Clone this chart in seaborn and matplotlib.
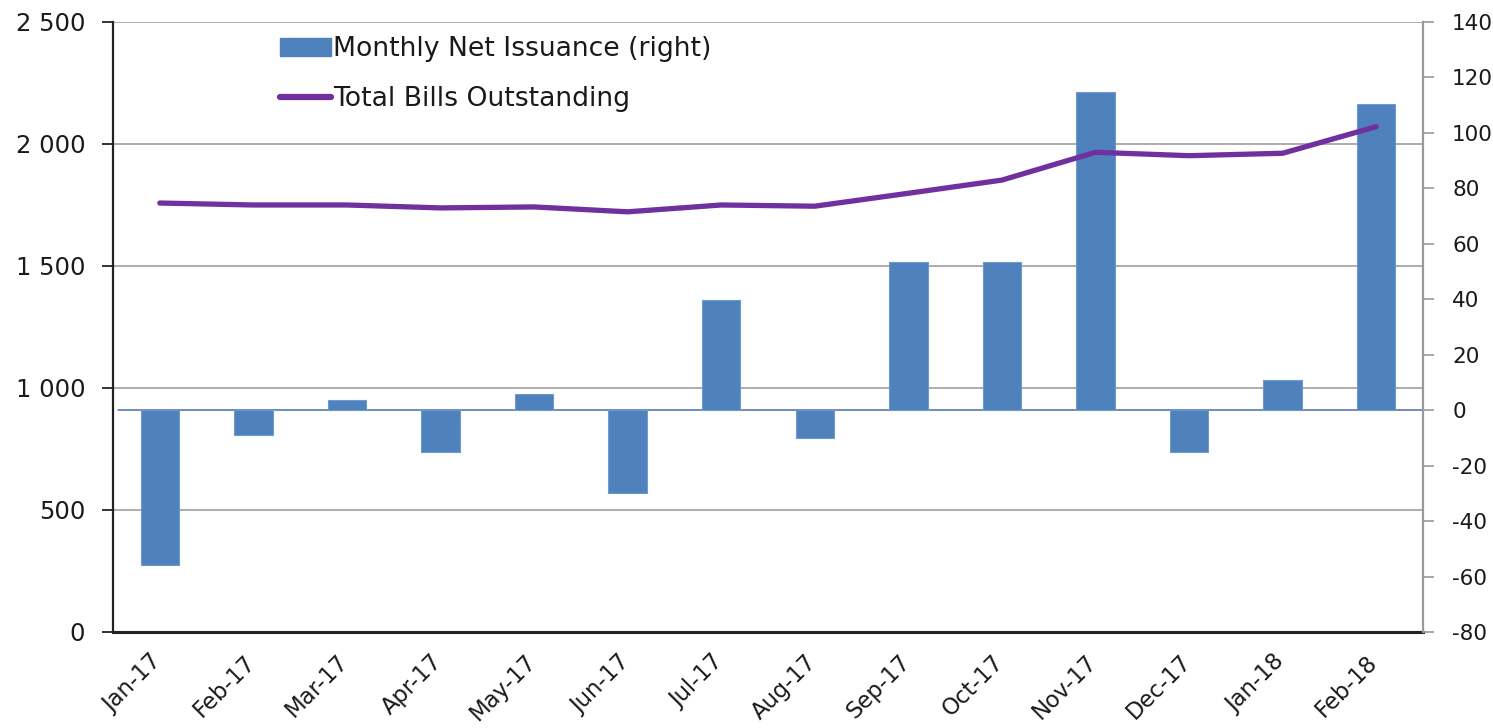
import numpy as np
import pandas as pd
import matplotlib
matplotlib.use("Agg")
import matplotlib.pyplot as plt
import matplotlib.transforms as mtransforms
from matplotlib.patches import Patch
from matplotlib.lines import Line2D
from matplotlib.ticker import FuncFormatter, FixedLocator
import seaborn as sns

months = ["Jan-17", "Feb-17", "Mar-17", "Apr-17", "May-17", "Jun-17", "Jul-17",
          "Aug-17", "Sep-17", "Oct-17", "Nov-17", "Dec-17", "Jan-18", "Feb-18"]
net_issuance = [-56, -9, 3.6, -15, 5.8, -30, 39.7, -10, 53.3, 53.3, 114.7, -15.1, 10.7, 110.3]
bills_outstanding = [1758, 1750, 1750, 1738, 1742, 1722, 1750, 1745, 1798, 1852, 1966, 1952, 1962, 2071]
left_ticks = [0, 500, 1000, 1500, 2000, 2500]
right_ticks = [-80, -60, -40, -20, 0, 20, 40, 60, 80, 100, 120, 140]
bar_label = "Monthly Net Issuance (right)"
line_label = "Total Bills Outstanding"

df = pd.DataFrame({"month": months, "net": net_issuance, "bills": bills_outstanding})
df["pos"] = np.arange(len(df))

sns.set_style("white")
plt.rcParams["font.family"] = ["DejaVu Sans"]
plt.rcParams["axes.unicode_minus"] = False

BAR_C = "#4f81bd"
LINE_C = "#7030a0"
GRID_C = "#a6a6a6"
TXT_C = "#1a1a1a"

fig = plt.figure(figsize=(14.93, 7.28), dpi=100)
ax = fig.add_axes([0.0757, 0.1319, 0.8774, 0.8379])
ax2 = ax.twinx()
ax3 = ax.twinx()

# bars on right scale
sns.barplot(data=df, x="month", y="net", ax=ax2, color=BAR_C, saturation=1,
            width=0.41, edgecolor="#6f9ad0", linewidth=0.8, errorbar=None)
ax2.axhline(0, color="#4a6fa5", lw=1.1, xmin=0.004, zorder=0.5)

# line on left scale
sns.lineplot(data=df, x="pos", y="bills", ax=ax3, color=LINE_C, lw=3.8,
             solid_capstyle="round", legend=False)

# x axis
ax.set_xlim(-0.5, len(months) - 0.5)
for a in (ax2, ax3):
    a.set_xlim(-0.5, len(months) - 0.5)
ax.set_xticks(np.arange(len(months)))
ax.set_xticklabels(months)
ax.xaxis.set_minor_locator(FixedLocator(np.arange(-0.5, len(months), 1.0)))
ax.tick_params(axis="x", which="major", length=0, pad=19, labelsize=16.3, colors=TXT_C)
ax.tick_params(axis="x", which="minor", length=8, width=1.3, color="#222222", direction="out")
offset = mtransforms.ScaledTranslation(-2 / 100, 0, fig.dpi_scale_trans)
for lab in ax.get_xticklabels():
    lab.set_rotation(45)
    lab.set_ha("right")
    lab.set_va("center")
    lab.set_rotation_mode("anchor")
    lab.set_transform(lab.get_transform() + offset)

# left axis
ax.set_ylim(0, 2500)
ax.set_yticks(left_ticks)
ax.yaxis.set_major_formatter(FuncFormatter(lambda v, p: f"{int(v):,}".replace(",", " ")))
ax.tick_params(axis="y", length=8, width=1.3, color="#222222", direction="out",
               labelsize=17.5, pad=12, colors=TXT_C)
ax.grid(axis="y", color=GRID_C, lw=1.3)
ax.set_axisbelow(True)

# right axis
ax2.set_ylim(-80, 140)
ax2.set_yticks(right_ticks)
ax2.tick_params(axis="y", length=8, width=1.2, color="#999999", direction="out",
                labelsize=15.5, pad=13, colors=TXT_C)
ax3.set_ylim(0, 2500)
ax3.yaxis.set_visible(False)

for a in (ax, ax2, ax3):
    a.set_xlabel("")
    a.set_ylabel("")
    for s in a.spines.values():
        s.set_visible(False)

ax.spines["left"].set_visible(True)
ax.spines["left"].set_color("#222222")
ax.spines["left"].set_linewidth(1.6)
ax.spines["bottom"].set_visible(True)
ax.spines["bottom"].set_color("#222222")
ax.spines["bottom"].set_linewidth(2.2)
ax2.spines["right"].set_visible(True)
ax2.spines["right"].set_color("#999999")
ax2.spines["right"].set_linewidth(1.6)

for a in (ax2, ax3):
    if a.get_legend() is not None:
        a.get_legend().remove()

handles = [Patch(facecolor=BAR_C, edgecolor=BAR_C, label=bar_label),
           Line2D([0], [0], color=LINE_C, lw=4.5, solid_capstyle="round", label=line_label)]
fig.legend(handles=handles, loc="upper left", bbox_to_anchor=(0.1875, 0.95),
           frameon=False, fontsize=19.2, handlelength=1.9, handleheight=0.7,
           handletextpad=0.1, labelspacing=0.9, borderpad=0, borderaxespad=0,
           labelcolor=TXT_C)

fig.savefig("out.png", dpi=100)
